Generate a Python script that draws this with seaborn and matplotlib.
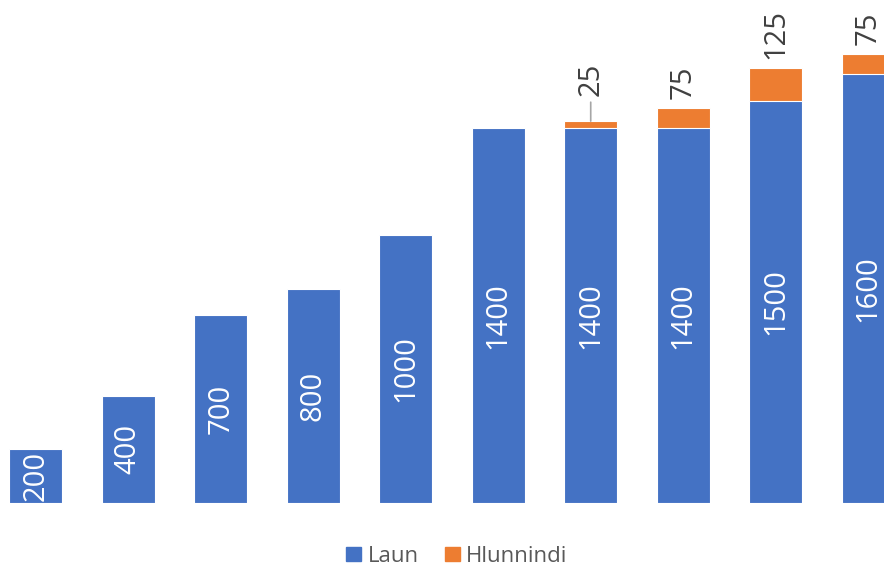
import pandas as pd
import seaborn as sns
import matplotlib.pyplot as plt
from matplotlib.patches import Patch

periods = ['1', '2', '3', '4', '5', '6', '7', '8', '9', '10']
laun = [200, 400, 700, 800, 1000, 1400, 1400, 1400, 1500, 1600]
hlunnindi = [0, 0, 0, 0, 0, 0, 25, 75, 125, 75]

blue = '#4472C4'
orange = '#ED7D31'

df = pd.DataFrame({'period': periods, 'Laun': laun, 'Hlunnindi': hlunnindi})
df['total'] = df['Laun'] + df['Hlunnindi']

sns.set_style('white')
plt.rcParams['font.family'] = ['Open Sans', 'DejaVu Sans']

fig = plt.figure(figsize=(8.84, 5.67), dpi=100)
ax = fig.add_axes([0, 64 / 567, 1, 503 / 567])

# stacked: total in orange underneath, salary in blue on top
sns.barplot(data=df, x='period', y='total', color=orange, saturation=1,
            width=0.57, edgecolor='white', linewidth=0.8, ax=ax)
sns.barplot(data=df, x='period', y='Laun', color=blue, saturation=1,
            width=0.57, edgecolor='white', linewidth=0.8, ax=ax)

ax.set_xlim(-0.387, 9.171)
ax.set_ylim(0, 1877)
ax.axis('off')

for i, v in enumerate(laun):
    ax.text(i, v / 2, str(v), rotation=90, ha='center', va='center',
            color='white', fontsize=21)

for i, (v, h) in enumerate(zip(laun, hlunnindi)):
    if h == 0:
        continue
    if h < 50:
        ax.annotate(str(h), xy=(i, v + h), xytext=(0, 18), textcoords='offset points',
                    rotation=90, ha='center', va='bottom', color='#404040', fontsize=21,
                    arrowprops=dict(arrowstyle='-', color='#A6A6A6', lw=1.2,
                                    shrinkA=2, shrinkB=0))
    else:
        ax.annotate(str(h), xy=(i, v + h), xytext=(0, 6.5), textcoords='offset points',
                    rotation=90, ha='center', va='bottom', color='#404040', fontsize=21)

handles = [Patch(color=blue, label='Laun'), Patch(color=orange, label='Hlunnindi')]
fig.legend(handles=handles, loc='center', bbox_to_anchor=(0.517, 0.019), ncol=2,
           frameon=False, fontsize=16, labelcolor='#595959', handlelength=0.65,
           handleheight=0.65, handletextpad=0.3, columnspacing=1.2)

fig.savefig('out.png', dpi=100)
